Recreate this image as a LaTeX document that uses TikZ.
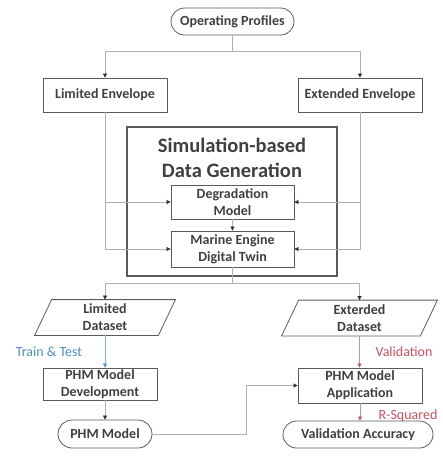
\documentclass[tikz,border=0pt]{standalone}
\usepackage{fontspec}
\setmainfont{Carlito}
\usetikzlibrary{arrows.meta,shapes.misc}
\definecolor{boxc}{HTML}{5A5A5A}
\definecolor{txt}{HTML}{404040}
\definecolor{linec}{HTML}{B0B0B0}
\definecolor{arrc}{HTML}{303030}
\definecolor{bluet}{HTML}{4A90C8}
\definecolor{bluel}{HTML}{7FB3DD}
\definecolor{redt}{HTML}{C8505F}
\definecolor{redl}{HTML}{D98A95}
\begin{document}
\begin{tikzpicture}[x=1pt,y=-1pt,
  box/.style={draw=boxc, line width=0.8pt, fill=white, text=txt,
    font=\bfseries\fontsize{14}{17}\selectfont, align=center, inner sep=0pt,
    minimum width=124pt, minimum height=34pt},
  pill/.style={box, rounded rectangle},
  shapec/.style={draw=boxc, line width=0.8pt},
  conn/.style={draw=linec, line width=0.7pt},
  arr/.style={conn, -{Triangle[length=4pt,width=4pt,color=arrc]}},
  arrblue/.style={draw=bluel, line width=0.7pt, -{Triangle[length=4pt,width=4pt,color=bluet]}},
  arrred/.style={draw=redl, line width=0.7pt, -{Triangle[length=4pt,width=4pt,color=redt]}},
  lbl/.style={font=\fontsize{14}{17}\selectfont, inner sep=0pt}
]
\useasboundingbox (0,0) rectangle (443,456);

\node[pill, minimum width=123pt, minimum height=27pt] (op) at (232.5,21.5) {Operating Profiles};
\node[box] (le) at (105,95) {Limited Envelope};
\node[box] (ee) at (360,95) {Extended Envelope};

\node[draw=boxc, line width=1.3pt, minimum width=210pt, minimum height=149pt] (sim) at (232,201.5) {};
\node[font=\bfseries\fontsize{20.5}{25}\selectfont, text=txt, align=center, inner sep=0pt] (title) at (232,157.5) {Simulation-based\\Data Generation};

\coordinate (j1) at (232.5,51);
\draw[conn] (op.south) -- (j1);
\draw[arr] (j1) -| (le.north);
\draw[arr] (j1) -| (ee.north);

\node[box, minimum width=123pt] (dm) at (232.5,202) {Degradation\\Model};
\node[box, minimum width=123pt, minimum height=36pt] (mt) at (232.5,249) {Marine Engine\\Digital Twin};

\draw[arr] (le.south) |- (mt.west);
\draw[arr] (le.south |- dm.west) -- (dm.west);
\draw[arr] (ee.south) |- (mt.east);
\draw[arr] (ee.south |- dm.east) -- (dm.east);
\draw[arr] (dm.south) -- (mt.north);

\node[box, draw=none, fill=none, minimum width=140pt, minimum height=35pt] (ld) at (105,317.5) {Limited\\Dataset};
\draw[shapec] ([xshift=17pt]ld.north west) -- (ld.north east) -- ([xshift=-17pt]ld.south east) -- (ld.south west) -- cycle;
\node[box, draw=none, fill=none, minimum width=155pt, minimum height=35pt] (ed) at (359.5,318) {Exterded\\Dataset};
\draw[shapec] ([xshift=17pt]ed.north west) -- (ed.north east) -- ([xshift=-17pt]ed.south east) -- (ed.south west) -- cycle;

\coordinate (j2) at (232.5,283);
\draw[conn] (mt.south) -- (j2);
\draw[arr] (j2) -| (ld.north);
\draw[arr] (j2) -| (ed.north);

\node[box, minimum width=114pt, minimum height=32pt] (pd) at (100,384) {PHM Model\\Development};
\node[pill, minimum width=94pt, minimum height=28pt] (pm) at (105,434) {PHM Model};
\node[box, minimum width=124pt, minimum height=35pt] (pa) at (360,385.5) {PHM Model\\Application};
\node[pill, minimum width=150pt, minimum height=27pt] (va) at (358,434.5) {Validation Accuracy};

\draw[arrblue] (ld.south) -- (ld.south |- pd.north);
\draw[arrred] (ed.south) -- (ed.south |- pa.north);
\draw[arr] (pm.north |- pd.south) -- (pm.north);
\coordinate (j3) at (246,434);
\draw[arr] (pm.east) -- (j3) |- (pa.west);
\draw[arrred] (pa.south) -- (pa.south |- va.north);

\node[lbl, text=bluet] (tt) at (49,352) {Train \& Test};
\node[lbl, text=redt] (vl) at (404,352) {Validation};
\node[lbl, text=redt] (rs) at (408,416) {R-Squared};
\end{tikzpicture}
\end{document}
